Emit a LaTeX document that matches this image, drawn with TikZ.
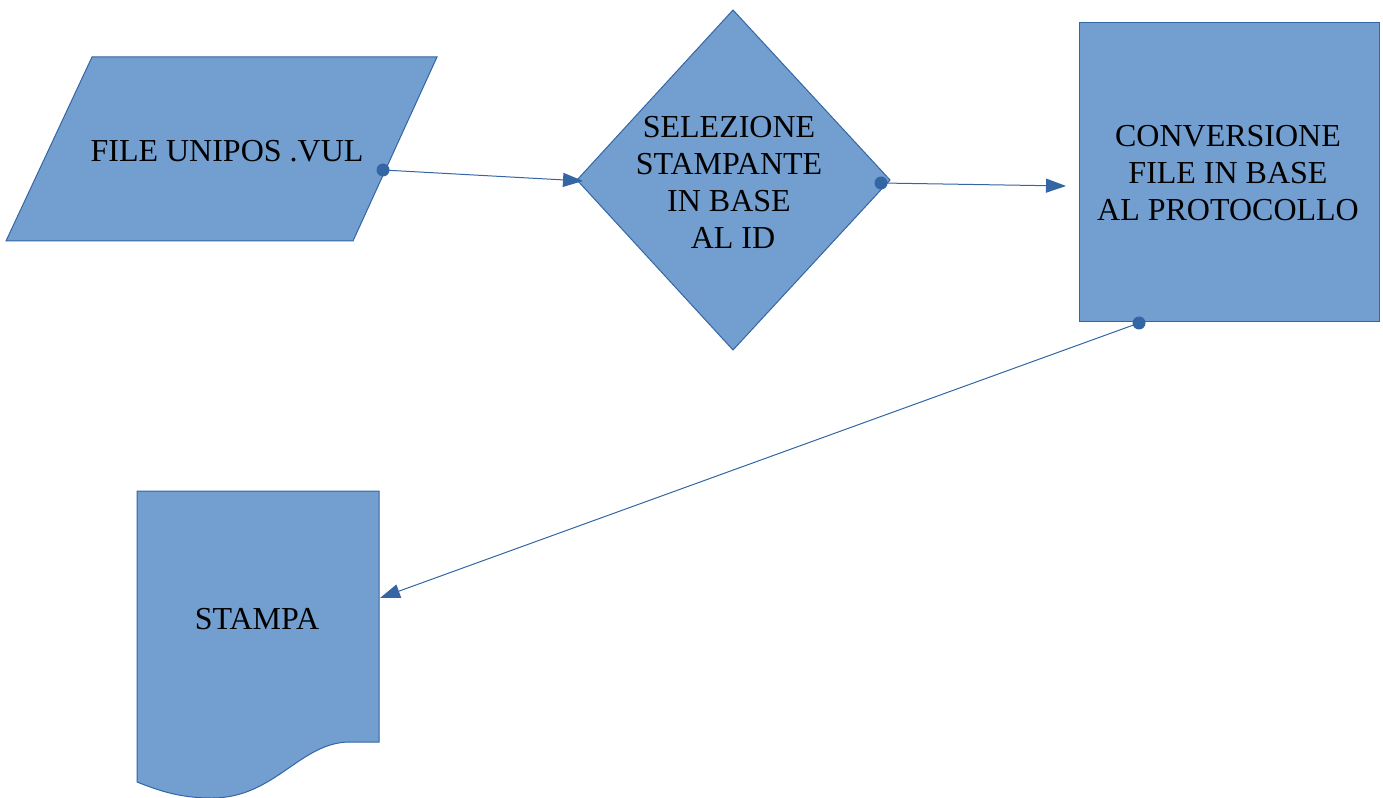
\documentclass[tikz,border=0pt]{standalone}
\usepackage{fontspec}
\setmainfont{Liberation Serif}
\usetikzlibrary{arrows.meta}

\definecolor{shapefill}{RGB}{114,159,207}
\definecolor{shapeline}{RGB}{52,101,164}

\tikzset{
  shapebox/.style={draw=shapeline,fill=shapefill,line width=0.75},
  flowtext/.style={align=center,text=black,font=\fontsize{24}{27.75}\selectfont},
  flowline/.style={draw=shapeline,line width=0.75,-{Triangle[length=15pt,width=10.5pt]}},
  startdot/.style={fill=shapeline,draw=none}
}

\begin{document}
\begin{tikzpicture}[x=0.75pt,y=0.75pt,yscale=-1,xscale=1]
\useasboundingbox (0,0) rectangle (1383,798);

%Shape: Parallelogram
\path[shapebox] (92,57) -- (437,57) -- (353,241) -- (6,241) -- cycle ;
%Shape: Diamond
\path[shapebox] (733,10) -- (890,180) -- (733,350) -- (577,180) -- cycle ;
%Shape: Rectangle
\path[shapebox] (1079,23) -- (1379,23) -- (1379,321) -- (1079,321) -- cycle ;
%Shape: Document
\path[shapebox] (137,491) -- (379,491) -- (379,742) -- (350,742) .. controls (300,742) and (275,798) .. (212,798) .. controls (180,798) and (160,791) .. (137,782) -- cycle ;

% Text Node
\node[flowtext] (file) at (227,151) {FILE UNIPOS .VUL};
% Text Node
\node[flowtext] (select) at (729,182) {SELEZIONE\\STAMPANTE\\IN BASE\\~AL ID};
% Text Node
\node[flowtext] (convert) at (1228,173) {CONVERSIONE\\FILE IN BASE~\\AL PROTOCOLLO};
% Text Node
\node[flowtext] (print) at (257,619) {STAMPA};

% connection points
\coordinate (fileout) at (383,170);
\coordinate (selectin) at (583,181);
\coordinate (selectout) at (881,183);
\coordinate (convertin) at (1066,186);
\coordinate (convertout) at (1139,323);
\coordinate (printin) at (380,598);

%Straight Lines
\draw[flowline] (fileout) -- (selectin);
\draw[flowline] (selectout) -- (convertin);
\draw[flowline] (convertout) -- (printin);

\fill[startdot] (fileout) circle (6.5);
\fill[startdot] (selectout) circle (6.5);
\fill[startdot] (convertout) circle (6.5);

\end{tikzpicture}
\end{document}
